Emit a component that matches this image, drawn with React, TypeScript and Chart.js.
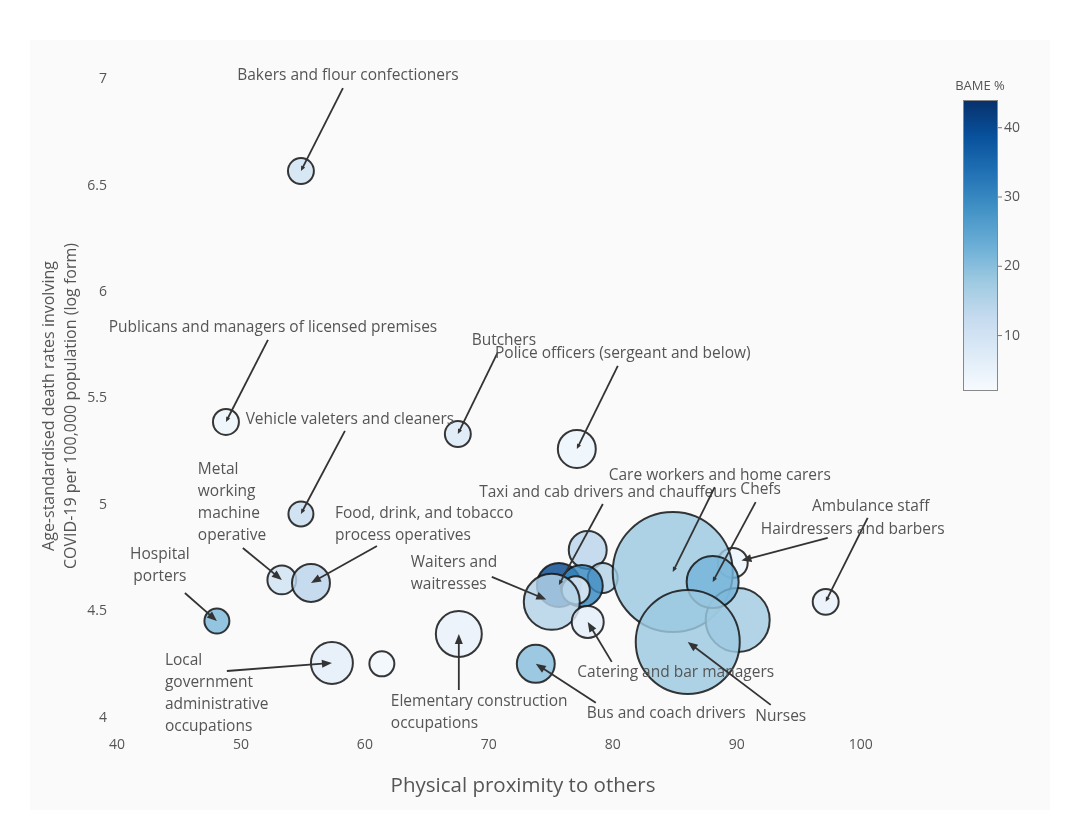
import React, { useEffect, useRef } from "react";
import { Chart, registerables } from "chart.js";

Chart.register(...registerables);

// ---------- data ----------
const occupations = [
  "Bakers and flour confectioners",
  "Publicans and managers of licensed premises",
  "Butchers",
  "Police officers (sergeant and below)",
  "Vehicle valeters and cleaners",
  "Metal\nworking\nmachine\noperative",
  "Food, drink, and tobacco\nprocess operatives",
  "Hospital\nporters",
  "Local\ngovernment\nadministrative\noccupations",
  "",
  "Elementary construction\noccupations",
  "Bus and coach drivers",
  "",
  "",
  "Taxi and cab drivers and chauffeurs",
  "",
  "",
  "Waiters and\nwaitresses",
  "Catering and bar managers",
  "Hairdressers and barbers",
  "Care workers and home carers",
  "",
  "Chefs",
  "Nurses",
  "Ambulance staff",
];

const proximity = [
  54.84, 48.79, 67.5, 77.1, 54.84, 53.3, 55.65, 48.06, 57.34, 61.37, 67.58, 73.79,
  77.98, 79.19, 75.65, 77.5, 77.02, 75.08, 77.98, 89.68, 84.84, 90.08, 88.06, 86.05, 97.18,
];

const deathRateLog = [
  6.568, 5.39, 5.333, 5.263, 4.958, 4.648, 4.634, 4.455, 4.258, 4.254, 4.394, 4.254,
  4.789, 4.657, 4.624, 4.62, 4.6, 4.545, 4.451, 4.728, 4.685, 4.46, 4.638, 4.357, 4.545,
];

const bamePct = [
  10, 4, 8, 4, 12, 10, 14, 21, 6, 3, 5, 20,
  14, 15, 40, 30, 5, 15, 6, 4, 18, 17, 22, 18, 5,
];

// workforce (thousands) -> bubble area
const workforceK = [
  42, 42, 42, 90, 39, 52, 90, 39, 110, 39, 132, 90,
  90, 56, 121, 110, 49, 196, 64, 56, 900, 256, 169, 676, 42,
];

const xTicks = [40, 50, 60, 70, 80, 90, 100];
const yTicks = [4, 4.5, 5, 5.5, 6, 6.5, 7];
const colorbarTicks = [10, 20, 30, 40];
const bameMin = 2;
const bameMax = 44;

// ---------- annotation layout (pixel offsets from the marker) ----------
type Ann = {
  i: number; ax: number; ay: number; lx: number; ly: number;
  align: CanvasTextAlign; head: "big" | "small"; standoff?: number;
};
const annotationLayout: Ann[] = [
  { i: 0, ax: 42, ay: -83, lx: 47, ly: -95, align: "center", head: "small" },
  { i: 1, ax: 42, ay: -82, lx: 47, ly: -94, align: "center", head: "small" },
  { i: 2, ax: 40, ay: -82, lx: 46, ly: -93, align: "center", head: "small" },
  { i: 3, ax: 41, ay: -83, lx: 46, ly: -95, align: "center", head: "small" },
  { i: 4, ax: 44, ay: -83, lx: 49, ly: -94, align: "center", head: "small" },
  { i: 5, ax: -39, ay: -32, lx: -84, ly: -110, align: "left", head: "big" },
  { i: 6, ax: 66, ay: -37, lx: 24, ly: -69, align: "left", head: "big" },
  { i: 7, ax: -32, ay: -28, lx: -57, ly: -66, align: "center", head: "big" },
  { i: 8, ax: -105, ay: 8, lx: -167, ly: -2, align: "left", head: "big" },
  { i: 10, ax: 0, ay: 56, lx: -68, ly: 68, align: "left", head: "big" },
  { i: 11, ax: 60, ay: 39, lx: 51, ly: 50, align: "left", head: "big" },
  { i: 17, ax: -60, ay: -25, lx: -141, ly: -39, align: "left", head: "big", standoff: 6 },
  { i: 14, ax: 44, ay: -81, lx: 49, ly: -92, align: "center", head: "small" },
  { i: 20, ax: 42, ay: -85, lx: 47, ly: -96, align: "center", head: "small" },
  { i: 22, ax: 43, ay: -80, lx: 48, ly: -92, align: "center", head: "small" },
  { i: 24, ax: 42, ay: -84, lx: 45, ly: -95, align: "center", head: "small" },
  { i: 19, ax: 95, ay: -25, lx: 120, ly: -33, align: "center", head: "big", standoff: 9 },
  { i: 18, ax: 24, ay: 40, lx: 88, ly: 51, align: "center", head: "big" },
  { i: 23, ax: 83, ay: 63, lx: 93, ly: 75, align: "center", head: "big" },
];

// ---------- colour scale (Blues) ----------
const bluesStops: [number, number[]][] = [
  [0, [247, 251, 255]],
  [0.125, [222, 235, 247]],
  [0.25, [198, 219, 239]],
  [0.375, [158, 202, 225]],
  [0.5, [107, 174, 214]],
  [0.625, [66, 146, 198]],
  [0.75, [33, 113, 181]],
  [0.875, [8, 81, 156]],
  [1, [8, 48, 107]],
];
function bluesAt(t: number): number[] {
  t = Math.max(0, Math.min(1, t));
  for (let k = 1; k < bluesStops.length; k++) {
    const [t1, c1] = bluesStops[k];
    const [t0, c0] = bluesStops[k - 1];
    if (t <= t1) {
      const f = (t - t0) / (t1 - t0);
      return c0.map((v, j) => Math.round(v + (c1[j] - v) * f));
    }
  }
  return bluesStops[bluesStops.length - 1][1];
}
function bameColor(v: number, alpha: number) {
  const c = bluesAt((v - bameMin) / (bameMax - bameMin));
  return `rgba(${c[0]},${c[1]},${c[2]},${alpha})`;
}

const FONT = '"Open Sans", "DejaVu Sans", sans-serif';
const TEXT = "#555";

const decorPlugin = {
  id: "decor",
  beforeDraw(chart: any) {
    const ctx = chart.ctx as CanvasRenderingContext2D;
    ctx.save();
    ctx.fillStyle = "#ffffff";
    ctx.fillRect(0, 0, chart.width, chart.height);
    ctx.fillStyle = "#fafafa";
    ctx.fillRect(30, 40, 1020, 770);
    ctx.restore();
  },
  afterDraw(chart: any) {
    const ctx = chart.ctx as CanvasRenderingContext2D;
    const xs = chart.scales.x;
    const ys = chart.scales.y;
    ctx.save();

    // annotations
    for (const a of annotationLayout) {
      const px = xs.getPixelForValue(proximity[a.i]);
      const py = ys.getPixelForValue(deathRateLog[a.i]);
      const tx = px + a.ax;
      const ty = py + a.ay;
      let hx = px, hy = py;
      const dx = hx - tx, dy = hy - ty;
      const len = Math.hypot(dx, dy) || 1;
      const ux = dx / len, uy = dy / len;
      if (a.standoff) { hx -= ux * a.standoff; hy -= uy * a.standoff; }
      const hl = a.head === "big" ? 10 : 5;
      const hw = a.head === "big" ? 4 : 2.2;
      ctx.strokeStyle = "#333";
      ctx.fillStyle = "#333";
      ctx.lineWidth = 1.8;
      ctx.beginPath();
      ctx.moveTo(tx, ty);
      ctx.lineTo(hx - ux * hl * 0.6, hy - uy * hl * 0.6);
      ctx.stroke();
      ctx.beginPath();
      ctx.moveTo(hx, hy);
      ctx.lineTo(hx - ux * hl - uy * hw, hy - uy * hl + ux * hw);
      ctx.lineTo(hx - ux * hl + uy * hw, hy - uy * hl - ux * hw);
      ctx.closePath();
      ctx.fill();

      ctx.font = `15.5px ${FONT}`;
      ctx.fillStyle = TEXT;
      ctx.textAlign = a.align;
      ctx.textBaseline = "middle";
      occupations[a.i].split("\n").forEach((line, k) => {
        ctx.fillText(line, px + a.lx, py + a.ly + k * 22);
      });
    }

    // axis titles
    ctx.fillStyle = TEXT;
    ctx.textAlign = "center";
    ctx.textBaseline = "middle";
    ctx.font = `20.5px ${FONT}`;
    ctx.fillText("Physical proximity to others", 523, 786);
    ctx.save();
    ctx.translate(60, 406);
    ctx.rotate(-Math.PI / 2);
    ctx.font = `16px ${FONT}`;
    ctx.fillText("Age-standardised death rates involving", 0, -11);
    ctx.fillText("COVID-19 per 100,000 population (log form)", 0, 11);
    ctx.restore();

    // colour bar
    const cbL = 963, cbR = 998, cbT = 100, cbB = 391;
    const grad = ctx.createLinearGradient(0, cbB, 0, cbT);
    for (const [t, c] of bluesStops) grad.addColorStop(t, `rgb(${c[0]},${c[1]},${c[2]})`);
    ctx.fillStyle = grad;
    ctx.fillRect(cbL, cbT, cbR - cbL, cbB - cbT);
    ctx.strokeStyle = "#888";
    ctx.lineWidth = 1;
    ctx.strokeRect(cbL + 0.5, cbT + 0.5, cbR - cbL - 1, cbB - cbT - 1);
    ctx.font = `14px ${FONT}`;
    ctx.fillStyle = TEXT;
    ctx.textAlign = "left";
    for (const v of colorbarTicks) {
      const y = cbB - ((v - bameMin) / (bameMax - bameMin)) * (cbB - cbT);
      ctx.strokeStyle = "#777";
      ctx.beginPath();
      ctx.moveTo(cbR, y);
      ctx.lineTo(cbR + 4, y);
      ctx.stroke();
      ctx.fillText(String(v), cbR + 6, y);
    }
    ctx.textAlign = "center";
    ctx.font = `13px ${FONT}`;
    ctx.fillText("BAME %", 980, 86);

    ctx.restore();
  },
};

export default function App() {
  const ref = useRef<HTMLCanvasElement>(null);
  useEffect(() => {
    document.body.style.margin = "0";
    const points = proximity.map((x, i) => ({
      x,
      y: deathRateLog[i],
      r: 2 * Math.sqrt(workforceK[i]),
    }));
    const chart = new Chart(ref.current as HTMLCanvasElement, {
      type: "bubble",
      data: {
        datasets: [
          {
            label: "Occupations",
            data: points,
            backgroundColor: bamePct.map((v) => bameColor(v, 0.82)),
            borderColor: "rgba(20,20,20,0.85)",
            borderWidth: 2,
            clip: false as any,
          },
        ],
      },
      options: {
        responsive: false,
        animation: false,
        devicePixelRatio: 1,
        events: [],
        layout: { padding: { left: 0, right: 151, top: 68, bottom: 0 } },
        plugins: { legend: { display: false }, tooltip: { enabled: false } },
        scales: {
          x: {
            type: "linear",
            min: 40,
            max: 106,
            grid: { display: false, drawTicks: false },
            border: { display: false },
            ticks: {
              padding: 8, color: "#555", font: { family: FONT, size: 14 },
              callback: (v: any) => String(Number(v)),
            },
            afterBuildTicks: (s: any) => { s.ticks = xTicks.map((v) => ({ value: v })); },
            afterFit: (s: any) => { s.height = 92; },
          },
          y: {
            type: "linear",
            min: 3.948,
            max: 7.052,
            grid: { display: false, drawTicks: false },
            border: { display: false },
            ticks: {
              padding: 10, color: "#555", font: { family: FONT, size: 14 },
              callback: (v: any) => String(Number(v)),
            },
            afterBuildTicks: (s: any) => { s.ticks = yTicks.map((v) => ({ value: v })); },
            afterFit: (s: any) => { s.width = 117; },
          },
        },
      },
      plugins: [decorPlugin],
    });
    return () => chart.destroy();
  }, []);
  return (
    <div style={{ position: "fixed", left: 0, top: 0, width: 1086, height: 821, background: "#fff" }}>
      <canvas ref={ref} width={1086} height={821} style={{ display: "block", width: 1086, height: 821 }} />
    </div>
  );
}
